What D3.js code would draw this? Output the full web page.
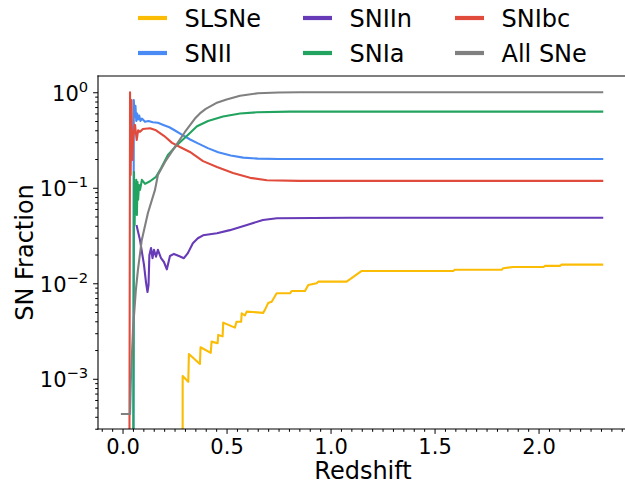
<!DOCTYPE html>
<meta charset="utf-8">
<style>
body { margin: 0; background: #fff; }
svg { display: block; font-family: "DejaVu Sans", sans-serif; }
</style>
<svg id="chart" width="625" height="487"></svg>
<script src="https://d3js.org/d3.v7.min.js"></script>
<script>
// ********** DATA: [redshift, fraction] **********
var slsne = [[0.289, 1e-4], [0.289, 1.07e-3], [0.316, 9.3e-4], [0.319, 1.82e-3], [0.372, 1.43e-3],
  [0.375, 2.14e-3], [0.424, 1.87e-3], [0.428, 2.45e-3], [0.457, 2.36e-3], [0.460, 2.88e-3],
  [0.481, 2.78e-3], [0.484, 3.87e-3], [0.540, 3.43e-3], [0.548, 3.95e-3], [0.570, 3.95e-3],
  [0.573, 4.85e-3], [0.588, 4.6e-3], [0.597, 5.05e-3], [0.676, 4.9e-3], [0.685, 5.3e-3],
  [0.700, 6.2e-3], [0.717, 6.4e-3], [0.741, 7.85e-3], [0.805, 7.85e-3], [0.813, 8.3e-3],
  [0.877, 8.3e-3], [0.893, 9.6e-3], [0.933, 0.0100], [0.941, 0.0104], [1.077, 0.0104],
  [1.101, 0.0113], [1.133, 0.0127], [1.150, 0.01345], [1.590, 0.01345], [1.598, 0.01387],
  [1.823, 0.01387], [1.830, 0.01436], [1.878, 0.0148], [2.023, 0.0148], [2.031, 0.0152],
  [2.103, 0.0152], [2.111, 0.01566], [2.311, 0.01566]];

var snii = [[0.052, 1e-4], [0.054, 0.83], [0.058, 0.55], [0.062, 0.72], [0.066, 0.5], [0.070, 0.6],
  [0.075, 0.52], [0.080, 0.57], [0.086, 0.5], [0.093, 0.53], [0.108, 0.49], [0.125, 0.5],
  [0.145, 0.485], [0.170, 0.48], [0.196, 0.455], [0.225, 0.43], [0.250, 0.40], [0.285, 0.36],
  [0.325, 0.32], [0.365, 0.29], [0.41, 0.26], [0.46, 0.235], [0.52, 0.218], [0.58, 0.207],
  [0.65, 0.202], [0.75, 0.2], [2.311, 0.2]];

var sniin = [[0.067, 0.0408], [0.074, 0.035], [0.084, 0.0283], [0.093, 0.0213], [0.103, 0.0157],
  [0.113, 0.0101], [0.120, 0.0081], [0.125, 0.0096], [0.129, 0.0197], [0.137, 0.0234],
  [0.144, 0.0183], [0.151, 0.0224], [0.161, 0.019], [0.170, 0.0224], [0.185, 0.0183],
  [0.199, 0.0167], [0.213, 0.014], [0.228, 0.0193], [0.247, 0.0203], [0.271, 0.0193],
  [0.295, 0.0183], [0.314, 0.0207], [0.338, 0.0263], [0.362, 0.0296], [0.387, 0.0318],
  [0.420, 0.0326], [0.454, 0.0334], [0.516, 0.036], [0.598, 0.0408], [0.675, 0.046],
  [0.742, 0.048], [1.093, 0.0486], [2.311, 0.0486]];

var snia = [[0.052, 1e-4], [0.055, 0.146], [0.058, 0.041], [0.061, 0.107], [0.064, 0.059],
  [0.066, 0.121], [0.069, 0.052], [0.072, 0.115], [0.075, 0.075], [0.079, 0.107], [0.084, 0.095],
  [0.093, 0.121], [0.108, 0.11], [0.132, 0.117], [0.161, 0.13], [0.185, 0.16], [0.218, 0.22],
  [0.262, 0.28], [0.310, 0.35], [0.358, 0.44], [0.411, 0.5], [0.483, 0.558], [0.565, 0.6],
  [0.646, 0.617], [0.805, 0.627], [2.311, 0.627]];

var snibc = [[0.033, 1e-4], [0.036, 1.0], [0.039, 0.136], [0.043, 0.83], [0.047, 0.196],
  [0.051, 0.34], [0.060, 0.455], [0.068, 0.316], [0.075, 0.40], [0.084, 0.385], [0.098, 0.413],
  [0.132, 0.42], [0.161, 0.40], [0.199, 0.35], [0.238, 0.295], [0.276, 0.267], [0.324, 0.237],
  [0.387, 0.19], [0.454, 0.165], [0.531, 0.143], [0.613, 0.127], [0.694, 0.12], [0.85, 0.118],
  [2.311, 0.118]];

var allSne = [[-0.008, 4.28e-4], [0.036, 4.28e-4], [0.040, 9.7e-4], [0.050, 3.2e-3], [0.064, 8.5e-3],
  [0.074, 0.0138], [0.092, 0.028], [0.122, 0.0545], [0.156, 0.095], [0.170, 0.136], [0.204, 0.186],
  [0.252, 0.268], [0.300, 0.384], [0.348, 0.53], [0.372, 0.6], [0.40, 0.67], [0.45, 0.77],
  [0.50, 0.84], [0.565, 0.92], [0.65, 0.975], [0.75, 0.995], [0.853, 1.0], [2.311, 1.0]];

var labels = ["SLSNe", "SNII", "SNIIn", "SNIa", "SNIbc", "All SNe"];
var colors = ["#fbbc05", "#4a8af4", "#673ab7", "#22a35f", "#e04b3c", "#808080"];
var series = [slsne, snii, sniin, snia, snibc, allSne];

var xTicks = [0, 0.5, 1.0, 1.5, 2.0];
var yTicks = [1e-3, 1e-2, 1e-1, 1];
var yExps = ["\u22123", "\u22122", "\u22121", "0"];

// ********** LAYOUT **********
var pLeft = 98, pRight = 628, pTop = 76, pBottom = 429;
var svg = d3.select("#chart");

var x = d3.scaleLinear().domain([-0.118, 2.43]).range([pLeft, pRight]);
var y = d3.scaleLog().domain([2.98e-4, 1.48]).range([pBottom, pTop]);

svg.append("defs").append("clipPath").attr("id", "plotclip")
  .append("rect").attr("x", pLeft).attr("y", pTop)
  .attr("width", pRight - pLeft).attr("height", pBottom - pTop);

// lines
var line = d3.line().x(function (d) { return x(d[0]); }).y(function (d) { return y(d[1]); });
svg.append("g").attr("clip-path", "url(#plotclip)")
  .selectAll("path").data(series).enter().append("path")
  .attr("d", line)
  .attr("fill", "none")
  .attr("stroke", function (d, i) { return colors[i]; })
  .attr("stroke-width", 2.1)
  .attr("stroke-linejoin", "round");

// minor ticks
var xMinor = d3.range(-0.1, 2.43, 0.05).filter(function (v) { return xTicks.indexOf(+v.toFixed(2)) < 0; });
svg.append("g").attr("transform", "translate(0," + pBottom + ")")
  .call(d3.axisBottom(x).tickValues(xMinor).tickSize(2.8).tickFormat(""))
  .call(function (g) { g.select(".domain").remove(); });

var yMinor = [];
[-4, -3, -2, -1, 0].forEach(function (e) {
  for (var k = 2; k <= 9; k++) {
    var v = k * Math.pow(10, e);
    if (v >= 2.98e-4 && v <= 1.48) yMinor.push(v);
  }
});
svg.append("g").attr("transform", "translate(" + pLeft + ",0)")
  .call(d3.axisLeft(y).tickValues(yMinor).tickSize(2.8).tickFormat(""))
  .call(function (g) { g.select(".domain").remove(); });

// major axes
var xAxis = svg.append("g").attr("transform", "translate(0," + pBottom + ")")
  .call(d3.axisBottom(x).tickValues(xTicks).tickSize(4.9).tickPadding(4.9).tickFormat(d3.format(".1f")));
xAxis.selectAll("text").attr("font-size", "21px").attr("fill", "#000").attr("font-family", "DejaVu Sans");
xAxis.select(".domain").remove();

var yAxis = svg.append("g").attr("transform", "translate(" + pLeft + ",0)")
  .call(d3.axisLeft(y).tickValues(yTicks).tickSize(4.9).tickFormat(""));
yAxis.select(".domain").remove();

// 10^n labels
var yl = svg.append("g").selectAll("text").data(yTicks).enter().append("text")
  .attr("x", pLeft - 9.8)
  .attr("y", function (d) { return y(d) + 8.5; })
  .attr("text-anchor", "end")
  .attr("font-size", "21px")
  .attr("fill", "#000");
yl.append("tspan").text("10");
yl.append("tspan").attr("dy", -9).attr("font-size", "14.7px")
  .text(function (d, i) { return yExps[i]; });

// spines
svg.append("g").attr("fill", "none").attr("stroke", "#000").attr("stroke-width", 1.1)
  .selectAll("line").data([[pLeft, pTop, pRight, pTop], [pLeft, pBottom, pRight, pBottom], [pLeft, pTop, pLeft, pBottom], [pRight, pTop, pRight, pBottom]])
  .enter().append("line")
  .attr("x1", function (d) { return d[0]; }).attr("y1", function (d) { return d[1]; })
  .attr("x2", function (d) { return d[2]; }).attr("y2", function (d) { return d[3]; })
  .attr("stroke-linecap", "square");

// axis labels
svg.append("text").attr("x", (pLeft + pRight) / 2).attr("y", 479)
  .attr("text-anchor", "middle").attr("font-size", "24px").text("Redshift");
svg.append("text").attr("transform", "translate(33," + (pTop + pBottom) / 2 + ")rotate(-90)")
  .attr("text-anchor", "middle").attr("font-size", "24px").text("SN Fraction");

// legend, 3 columns filled column-wise
var colX = [138, 303, 455], rowY = [26.5, 61.5];
var leg = svg.append("g").selectAll("g").data(labels).enter().append("g")
  .attr("transform", function (d, i) {
    return "translate(" + colX[Math.floor(i / 2)] + "," + rowY[i % 2] + ")";
  });
leg.append("line").attr("x1", 0).attr("x2", 29).attr("y1", -8.5).attr("y2", -8.5)
  .attr("stroke", function (d, i) { return colors[i]; }).attr("stroke-width", 4.2);
leg.append("text").attr("x", 46.5).attr("font-size", "24px").text(function (d) { return d; });
</script>
